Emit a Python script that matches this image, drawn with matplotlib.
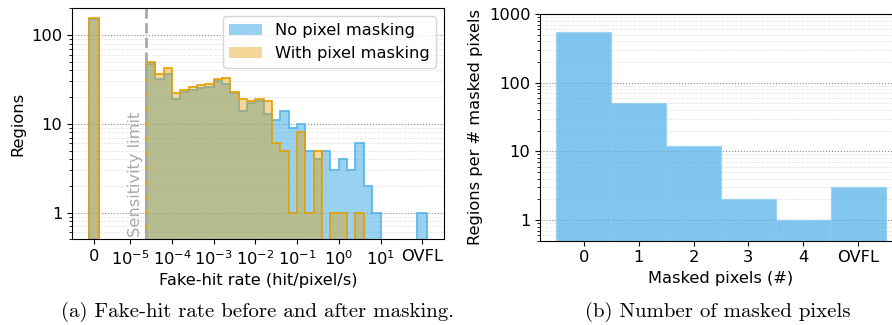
import numpy as np
import matplotlib.pyplot as plt
from matplotlib.ticker import FuncFormatter, NullFormatter, LogLocator

# log10 edges of the fake-hit-rate bins (first edge = sensitivity limit)
rate_edges = [-4.63, -4.4, -4.2, -4.0, -3.8, -3.6, -3.4, -3.2, -3.0, -2.8, -2.6,
              -2.4, -2.2, -2.0, -1.8, -1.6, -1.4, -1.2, -1.0, -0.8, -0.6, -0.4,
              -0.2, 0.0, 0.2, 0.4, 0.6, 0.8, 1.0]
sens_limit = -4.63

# regions per rate bin
no_mask = [47, 32, 36, 19, 23, 24, 25, 26, 30, 28, 22, 14, 17, 18, 13, 11, 14,
           9, 10, 5, 4, 5, 3, 4, 3, 6, 2, 1]
with_mask = [50, 36, 42, 22, 24, 26, 27, 28, 32, 33, 23, 19, 18, 19, 18, 6, 5,
             1, 8, 1, 5, 0, 1, 1, 0, 1, 0, 0]
# regions with zero fake hits / overflow
no_mask_zero, no_mask_ovfl = 150, 1
with_mask_zero, with_mask_ovfl = 157, 0

rate_ticks = ['0', r'$10^{-5}$', r'$10^{-4}$', r'$10^{-3}$', r'$10^{-2}$',
              r'$10^{-1}$', r'$10^{0}$', r'$10^{1}$', 'OVFL']

# masked pixels per region
masked_labels = ['0', '1', '2', '3', '4', 'OVFL']
masked_counts = [540, 50, 12, 2, 1, 3]

BLUE = '#56B4E9'
ORANGE = '#E69F00'
ZERO_POS, OVFL_POS, SPECIAL_W = -5.875, 2.0, 0.25

plt.rcParams['font.size'] = 11.7

fig = plt.figure(figsize=(8.92, 3.25), dpi=100)
ax1 = fig.add_axes([0.0807, 0.2637, 0.4174, 0.7108])
ax2 = fig.add_axes([0.6054, 0.2594, 0.4058, 0.6975])

edges = np.array(rate_edges)
centers = (edges[:-1] + edges[1:]) / 2
widths = np.diff(edges)


def draw_series(ax, counts, zero, ovfl, color, alpha, label):
    counts = np.array(counts, dtype=float)
    xs = np.concatenate([[ZERO_POS], centers, [OVFL_POS]])
    ws = np.concatenate([[SPECIAL_W], widths, [SPECIAL_W]])
    hs = np.concatenate([[zero], counts, [ovfl]])
    ax.bar(xs, hs, ws, color=color, alpha=alpha, linewidth=0, label=label)
    # outline of the histogram
    floor = 1e-2
    ax.stairs(np.where(counts > 0, counts, floor), edges, baseline=floor,
              color=color, lw=1.2)
    for pos, v in [(ZERO_POS, zero), (OVFL_POS, ovfl)]:
        if v > 0:
            ax.stairs([v], [pos - SPECIAL_W / 2, pos + SPECIAL_W / 2],
                      baseline=floor, color=color, lw=1.2)


draw_series(ax1, no_mask, no_mask_zero, no_mask_ovfl, BLUE, 0.6, 'No pixel masking')
draw_series(ax1, with_mask, with_mask_zero, with_mask_ovfl, ORANGE, 0.4, 'With pixel masking')

ax1.axvline(sens_limit, color='#aaaaaa', ls='--', lw=2)
ax1.text(sens_limit - 0.07, 0.53, 'Sensitivity limit', rotation=90, color='#aaaaaa',
         ha='right', va='bottom')

ax1.set_yscale('log')
ax1.set_ylim(0.5, 200)
ax1.set_xlim(-6.4, 2.53)
ax1.set_xticks([ZERO_POS, -5, -4, -3, -2, -1, 0, 1, OVFL_POS])
ax1.set_xticklabels(rate_ticks)
ax1.set_xlabel('Fake-hit rate (hit/pixel/s)')
ax1.set_ylabel('Regions')
ax1.legend(loc='upper right')

ax2.bar(np.arange(len(masked_counts)), masked_counts, 1.0,
        facecolor=(0.337, 0.706, 0.914, 0.75), edgecolor=(0.55, 0.8, 0.95, 0.6), lw=1)
ax2.set_yscale('log')
ax2.set_ylim(0.5, 1000)
ax2.set_xlim(-0.8, 5.8)
ax2.set_xticks(np.arange(len(masked_labels)))
ax2.set_xticklabels(masked_labels)
ax2.set_xlabel('Masked pixels (#)')
ax2.set_ylabel('Regions per # masked pixels')

for ax in (ax1, ax2):
    ax.set_axisbelow(True)
    ax.yaxis.set_major_formatter(FuncFormatter(lambda v, _: f'{v:g}'))
    ax.yaxis.set_minor_locator(LogLocator(base=10, subs=np.arange(2, 10)))
    ax.yaxis.set_minor_formatter(NullFormatter())
    ax.grid(axis='y', which='major', ls=':', color='#888888', lw=0.8)
    ax.grid(axis='y', which='minor', ls='--', color='#e6e6e6', lw=0.6)

fig.text(0.289, 0.041, '(a) Fake-hit rate before and after masking.',
         ha='center', va='center', family='cmr10', fontsize=15)
fig.text(0.805, 0.041, '(b) Number of masked pixels',
         ha='center', va='center', family='cmr10', fontsize=15)

fig.savefig('out.png', dpi=100)
